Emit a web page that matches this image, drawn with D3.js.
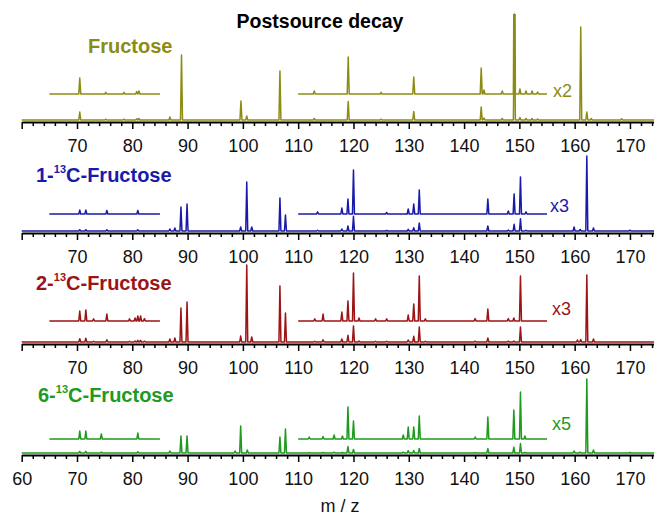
<!DOCTYPE html>
<html>
<head>
<meta charset="utf-8">
<script src="https://cdn.jsdelivr.net/npm/d3@7"></script>
<style>
  body { margin: 0; background: #fff; }
  svg { display: block; font-family: "Liberation Sans", Arial, sans-serif; }
</style>
</head>
<body>
<svg id="chart" width="654" height="519"></svg>
<script>
// m/z axis
const majorTicks = [60, 70, 80, 90, 100, 110, 120, 130, 140, 150, 160, 170];
const minorTicks = d3.range(60, 176, 2);

// sample names: [prefix, isotope superscript, rest]
const sampleNames = [
  ["", "", "Fructose"],
  ["1-", "13", "C-Fructose"],
  ["2-", "13", "C-Fructose"],
  ["6-", "13", "C-Fructose"]
];
const sampleColors = ["#8c8c14", "#1a1aaa", "#9c1414", "#1e9a1e"];

// magnification of the inset traces and the m/z windows they cover
const zoomFactors = [2, 3, 3, 5];
const zoomRanges = [[65, 85], [110, 155]];

// peak lists [m/z, intensity a.u.]
const fructosePeaks = [
  [70.5, 8], [75.2, 0.8], [78.5, 0.8], [80.8, 1.2], [81.2, 1.5], [86.8, 3],
  [88.9, 65], [99.65, 19], [100.7, 4], [106.7, 49], [112.9, 1.5], [119.05, 18.5],
  [125, 0.8], [130.9, 8.5], [143.1, 13], [143.6, 2], [146.9, 1.5], [149.1, 106],
  [150.1, 2.5], [151.2, 1.5], [152.3, 1.5], [153.3, 1], [161.1, 93], [162.2, 8],
  [163, 1.5], [168.5, 1.2]
];
const c1Peaks = [
  [70.5, 1.3], [71.6, 1.3], [75.4, 1.2], [81, 1.2], [86.8, 2], [87.7, 3],
  [88.8, 24], [89.9, 27], [99.6, 4], [100.7, 49], [101.6, 4], [106.7, 33],
  [107.7, 16], [113.5, 0.7], [117.9, 2], [119, 5], [120, 14.7], [126, 0.5],
  [129.9, 1.7], [130.9, 3.3], [131.9, 8], [144.3, 5], [148, 1], [149.05, 6.7],
  [150.2, 12.3], [151.2, 0.7], [159.9, 4], [161, 1.5], [162.2, 75], [163.4, 3],
  [170, 0.8]
];
const c2Peaks = [
  [70.5, 3.3], [71.6, 3.7], [73, 0.7], [75.4, 2.3], [79.5, 0.7], [80.5, 1],
  [81, 1.7], [81.5, 1.7], [82.2, 0.8], [86.8, 3], [87.7, 4], [88.8, 34],
  [89.9, 40], [99.6, 6], [100.7, 77], [101.6, 5], [106.7, 56], [107.7, 29],
  [113, 0.7], [114.5, 2.3], [117.9, 3], [119, 6.7], [120, 16], [121, 1],
  [124, 0.7], [126, 0.7], [129.9, 2], [130.9, 5.7], [131.9, 15], [133, 0.7],
  [142, 0.8], [144.3, 4], [148, 0.8], [149, 1], [150.2, 15], [160.5, 2],
  [161.1, 2.5], [162.2, 67], [163.4, 3]
];
const c6Peaks = [
  [70.5, 1.6], [71.6, 1.6], [74.4, 1], [81, 1.2], [86.8, 2], [88.8, 17],
  [89.9, 17], [98.6, 2], [99.6, 27], [100.8, 3], [106.7, 16], [107.7, 24],
  [112, 0.4], [114.5, 0.5], [116.5, 0.8], [118, 0.6], [119, 6.4], [120, 3.6],
  [129, 0.8], [129.9, 2.4], [130.9, 2.4], [131.9, 4.6], [142, 0.4], [144.3, 4.4],
  [149, 5.8], [150.2, 9.4], [151, 0.6], [159.9, 2], [161, 1], [162.2, 74],
  [163.4, 3], [170, 0.6]
];
const spectra = [fructosePeaks, c1Peaks, c2Peaks, c6Peaks];

// layout
const axisY = [122, 233, 344, 455];
const insetLift = [26, 17, 21, 14];
const nameX = [88, 36, 36, 38];
const nameY = [53, 182, 290, 402];
const factorX = [553, 550, 552, 552];
const factorY = [97, 212, 315, 430];
const halfWidth = 0.18;

const svg = d3.select("#chart");
const x = d3.scaleLinear().domain([60, 175]).range([21.7, 657.6]);

svg.append("text")
  .attr("x", 320).attr("y", 28)
  .attr("text-anchor", "middle")
  .attr("font-size", 19.5).attr("font-weight", "bold")
  .attr("fill", "#000")
  .text("Postsource decay");

function tracePoints(peaks, lo, hi, factor) {
  const pts = [[lo, 0]];
  peaks.filter(p => p[0] > lo && p[0] < hi)
    .sort((a, b) => a[0] - b[0])
    .forEach(p => {
      pts.push([p[0] - halfWidth, 0], [p[0], p[1] * factor], [p[0] + halfWidth, 0]);
    });
  pts.push([hi, 0]);
  return pts;
}

spectra.forEach((peaks, i) => {
  const color = sampleColors[i];
  const ay = axisY[i];
  const base = ay - 2;
  const y = d3.scaleLinear().domain([0, 100]).range([base, base - 100]);
  const yInset = d3.scaleLinear().domain([0, 100]).range([base - insetLift[i], base - insetLift[i] - 100]);
  const g = svg.append("g");

  const clipId = "clip" + i;
  svg.append("clipPath").attr("id", clipId)
    .append("rect")
    .attr("x", 0).attr("y", ay - 108)
    .attr("width", 654).attr("height", 108);

  const line = d3.line().x(d => x(d[0])).y(d => y(d[1]));
  const lineInset = d3.line().x(d => x(d[0])).y(d => yInset(d[1]));

  // main spectrum
  g.append("path")
    .datum(tracePoints(peaks, 60, 175, 1))
    .attr("d", line)
    .attr("fill", "none")
    .attr("stroke", color)
    .attr("stroke-width", 1.5)
    .attr("stroke-linejoin", "round");

  // magnified insets
  zoomRanges.forEach(r => {
    g.append("path")
      .datum(tracePoints(peaks, r[0], r[1], zoomFactors[i]))
      .attr("d", lineInset)
      .attr("clip-path", `url(#${clipId})`)
      .attr("fill", "none")
      .attr("stroke", color)
      .attr("stroke-width", 1.5)
      .attr("stroke-linejoin", "round");
  });

  // axis
  const axis = svg.append("g")
    .attr("transform", `translate(0,${ay})`)
    .call(d3.axisBottom(x)
      .tickValues(majorTicks)
      .tickSize(7)
      .tickSizeOuter(0)
      .tickPadding(10)
      .tickFormat(d => (i < 3 && d === 60) ? "" : d));
  axis.select(".domain").attr("stroke", "#000").attr("stroke-width", 2);
  axis.selectAll(".tick line").attr("stroke", "#000").attr("stroke-width", 1.5);
  axis.selectAll(".tick text")
    .attr("font-size", 18)
    .attr("font-family", "Liberation Sans, Arial, sans-serif")
    .attr("fill", "#111");

  const minor = svg.append("g")
    .attr("transform", `translate(0,${ay})`)
    .call(d3.axisBottom(x)
      .tickValues(minorTicks.filter(v => !majorTicks.includes(v)))
      .tickSize(4)
      .tickSizeOuter(0)
      .tickFormat(""));
  minor.select(".domain").remove();
  minor.selectAll(".tick line").attr("stroke", "#000").attr("stroke-width", 1.5);

  // sample name
  const nm = sampleNames[i];
  const t = svg.append("text")
    .attr("x", nameX[i]).attr("y", nameY[i])
    .attr("font-size", 20).attr("font-weight", "bold")
    .attr("fill", color);
  t.append("tspan").text(nm[0]);
  if (nm[1]) {
    t.append("tspan").attr("font-size", 11).attr("dy", -9).text(nm[1]);
    t.append("tspan").attr("dy", 9).text(nm[2]);
  } else {
    t.append("tspan").text(nm[2]);
  }

  // magnification factor
  svg.append("text")
    .attr("x", factorX[i]).attr("y", factorY[i])
    .attr("font-size", 18)
    .attr("fill", color)
    .text("x" + zoomFactors[i]);
});

svg.append("text")
  .attr("x", 340).attr("y", 512)
  .attr("text-anchor", "middle")
  .attr("font-size", 18)
  .attr("fill", "#111")
  .text("m / z");
</script>
</body>
</html>
